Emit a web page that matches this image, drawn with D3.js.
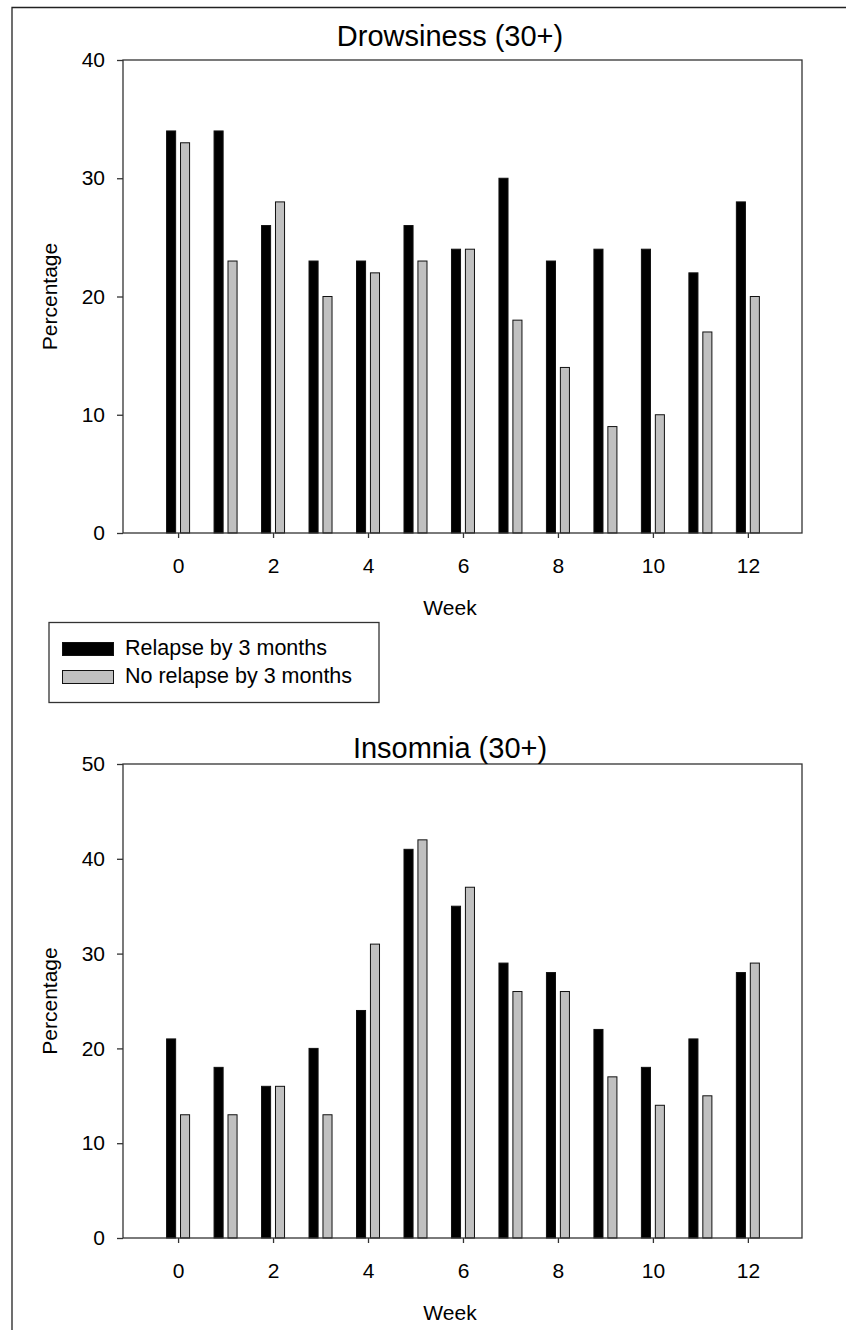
<!DOCTYPE html>
<html>
<head>
<meta charset="utf-8">
<script src="https://cdn.jsdelivr.net/npm/d3@7.9.0/dist/d3.min.js"></script>
<style>
  body { margin: 0; background: #fff; }
  svg { display: block; font-family: "Liberation Sans", Arial, sans-serif; }
</style>
</head>
<body>
<svg id="chart" width="846" height="1330"></svg>
<script>
// weeks on the x axis
const weeks = [0, 1, 2, 3, 4, 5, 6, 7, 8, 9, 10, 11, 12];
const weekTicks = [0, 2, 4, 6, 8, 10, 12];
const seriesNames = ['Relapse by 3 months', 'No relapse by 3 months'];

// Drowsiness (30+)
const drowsyRelapse = [34, 34, 26, 23, 23, 26, 24, 30, 23, 24, 24, 22, 28];
const drowsyNoRelapse = [33, 23, 28, 20, 22, 23, 24, 18, 14, 9, 10, 17, 20];
const drowsyTicks = [0, 10, 20, 30, 40];

// Insomnia (30+)
const insomRelapse = [21, 18, 16, 20, 24, 41, 35, 29, 28, 22, 18, 21, 28];
const insomNoRelapse = [13, 13, 16, 13, 31, 42, 37, 26, 26, 17, 14, 15, 29];
const insomTicks = [0, 10, 20, 30, 40, 50];

const colors = ['#000000', '#c0c0c0'];
const svg = d3.select('#chart');

// outer frame (left + top only)
svg.append('path')
  .attr('d', 'M12,1330 L12,7.5 L846,7.5')
  .attr('fill', 'none')
  .attr('stroke', '#222')
  .attr('stroke-width', 1.3);

const left = 123, right = 802;

function drawPanel(title, s1, s2, yTicks, top, bottom, titleY) {
  let x = d3.scaleLinear().domain([-1.16, 13.14]).range([left, right]);
  let y = d3.scaleLinear().domain([0, d3.max(yTicks)]).range([bottom, top]);
  let inner = d3.scaleBand().domain([0, 1]).range([-11.5, 11.5]).paddingInner(0.35);

  let g = svg.append('g');

  let rows = weeks.map((w, i) => ({ week: w, vals: [s1[i], s2[i]] }));
  rows.forEach((r) => {
    r.vals.forEach((v, k) => {
      g.append('rect')
        .attr('x', x(r.week) + inner(k))
        .attr('y', y(v))
        .attr('width', inner.bandwidth())
        .attr('height', y(0) - y(v))
        .attr('fill', colors[k])
        .attr('stroke', '#111')
        .attr('stroke-width', 1);
    });
  });

  // plot box
  g.append('rect')
    .attr('x', left).attr('y', top)
    .attr('width', right - left).attr('height', bottom - top)
    .attr('fill', 'none').attr('stroke', '#333').attr('stroke-width', 1.3);

  let yAxis = g.append('g')
    .attr('transform', `translate(${left},0)`)
    .call(d3.axisLeft(y).tickValues(yTicks).tickSize(6).tickPadding(12));
  yAxis.select('.domain').remove();
  yAxis.selectAll('line').attr('stroke', '#333').attr('stroke-width', 1.3);
  yAxis.selectAll('text').attr('font-size', 21).attr('fill', '#000')
    .attr('font-family', '"Liberation Sans", Arial, sans-serif');

  let xAxis = g.append('g')
    .attr('transform', `translate(0,${bottom})`)
    .call(d3.axisBottom(x).tickValues(weekTicks).tickSize(5).tickPadding(20));
  xAxis.select('.domain').remove();
  xAxis.selectAll('line').attr('stroke', '#333').attr('stroke-width', 1.3);
  xAxis.selectAll('text').attr('font-size', 21).attr('fill', '#000')
    .attr('font-family', '"Liberation Sans", Arial, sans-serif');

  g.append('text')
    .attr('x', 450).attr('y', titleY)
    .attr('text-anchor', 'middle')
    .attr('font-size', 29).attr('fill', '#000')
    .text(title);

  g.append('text')
    .attr('x', 450).attr('y', bottom + 82)
    .attr('text-anchor', 'middle')
    .attr('font-size', 21).attr('fill', '#000')
    .text('Week');

  g.append('text')
    .attr('transform', `translate(57,${(top + bottom) / 2}) rotate(-90)`)
    .attr('text-anchor', 'middle')
    .attr('font-size', 21).attr('fill', '#000')
    .text('Percentage');
}

drawPanel('Drowsiness (30+)', drowsyRelapse, drowsyNoRelapse, drowsyTicks, 60, 533, 46);
drawPanel('Insomnia (30+)', insomRelapse, insomNoRelapse, insomTicks, 764, 1238, 758);

// legend
const legend = svg.append('g');
legend.append('rect')
  .attr('x', 49).attr('y', 622.5).attr('width', 330).attr('height', 80)
  .attr('fill', '#fff').attr('stroke', '#333').attr('stroke-width', 1.3);
seriesNames.forEach((name, i) => {
  legend.append('rect')
    .attr('x', 62.5).attr('y', 642.5 + i * 28).attr('width', 51).attr('height', 13)
    .attr('fill', colors[i]).attr('stroke', '#111').attr('stroke-width', 1);
  legend.append('text')
    .attr('x', 125).attr('y', 655 + i * 28)
    .attr('font-size', 21.5).attr('fill', '#000')
    .text(name);
});
</script>
</body>
</html>
